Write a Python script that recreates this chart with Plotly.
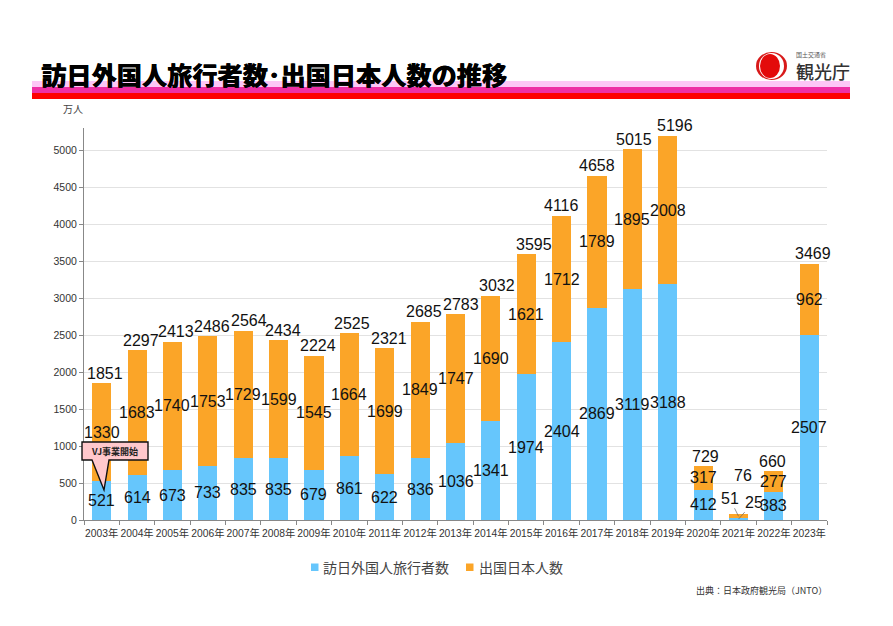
import plotly.graph_objects as go

years = ["2003年","2004年","2005年","2006年","2007年","2008年","2009年","2010年","2011年","2012年","2013年","2014年","2015年","2016年","2017年","2018年","2019年","2020年","2021年","2022年","2023年"]
inbound = [521,614,673,733,835,835,679,861,622,836,1036,1341,1974,2404,2869,3119,3188,412,25,383,2507]
outbound = [1330,1683,1740,1753,1729,1599,1545,1664,1699,1849,1747,1690,1621,1712,1789,1895,2008,317,51,277,962]
totals = [1851,2297,2413,2486,2564,2434,2224,2525,2321,2685,2783,3032,3595,4116,4658,5015,5196,729,76,660,3469]
series_names = ["訪日外国人旅行者数", "出国日本人数"]

# horizontal nudges of the total labels, in pixels
total_nudge = [3,4,4,4,6,4,4,3,4,4,5,6,8,0,0,2,7,2,4,-1,4]

L, R, T, B = 84, 827, 128, 520
def px(x): return (x - L) / (R - L)
def py(y): return (B - y) / (B - T)

BLUE, ORANGE = "#66C6FC", "#FBA528"
LBL = "Liberation Sans, Arial, sans-serif"
JP = "Noto Sans CJK JP, sans-serif"
LF = dict(family=LBL, size=16, color="#111")

fig = go.Figure()
fig.add_bar(name=series_names[0], x=years, y=inbound, marker_color=BLUE, marker_line_width=0, showlegend=False)
fig.add_bar(name=series_names[1], x=years, y=outbound, marker_color=ORANGE, marker_line_width=0, showlegend=False)

ann = []
for i, yr in enumerate(years):
    a, b, t = inbound[i], outbound[i], totals[i]
    if yr == "2021年":
        ann.append(dict(x=yr, y=t, text=str(t), showarrow=False, yshift=39, xshift=total_nudge[i], font=LF))
        ann.append(dict(x=yr, y=a + b / 2, text=str(b), ax=-9, ay=-18, showarrow=True, arrowhead=0,
                        arrowwidth=0.7, arrowcolor="#666", font=LF))
        ann.append(dict(x=yr, y=a / 2, text=str(a), ax=15, ay=-17, showarrow=True, arrowhead=0,
                        arrowwidth=0.7, arrowcolor="#666", font=LF))
        continue
    ann.append(dict(x=yr, y=a / 2, text=str(a), showarrow=False, font=LF))
    ann.append(dict(x=yr, y=a + b / 2, text=str(b), showarrow=False, font=LF))
    ann.append(dict(x=yr, y=t, text=str(t), showarrow=False, yshift=10, xshift=total_nudge[i], font=LF))

def ptext(x, y, text, size, family=JP, color="#222", anchor="center", **fontkw):
    ann.append(dict(xref="paper", yref="paper", x=px(x), y=py(y), text=text, showarrow=False,
                    xanchor=anchor, yanchor="middle", borderpad=0,
                    font=dict(family=family, size=size, color=color, **fontkw)))

ptext(40, 73.5, "訪日外国人旅行者数･出国日本人数の推移", 25.2, color="#000", anchor="left", weight=900,
      shadow="0.4px 0.4px 0 #000")
ptext(62, 108, "万人", 10, anchor="left", color="#444")
ptext(828, 590, "出典：日本政府観光局（JNTO）", 9, anchor="right", color="#333")
ptext(114, 451, "VJ事業開始", 9, color="#222", weight=700)
ptext(823, 71, "観光庁", 18, color="#333", weight=500)
ptext(811, 55, "国土交通省", 6, color="#555")

# legend row
ptext(322, 567, series_names[0], 14, color="#444", anchor="left")
ptext(478, 567, series_names[1], 14, color="#444", anchor="left")

def band(y0, y1, col):
    return dict(type="rect", xref="paper", yref="paper", x0=px(32), x1=px(850), y0=py(y0), y1=py(y1),
                fillcolor=col, line_width=0, layer="below")
def swatch(x0, col):
    return dict(type="rect", xref="paper", yref="paper", x0=px(x0), x1=px(x0 + 7.5), y0=py(563.5), y1=py(571),
                fillcolor=col, line_width=0)

shapes = [
    band(81, 87, "#FDC6F6"), band(87, 93, "#EE2FA5"), band(93, 99, "#FE0000"),
    swatch(311, BLUE), swatch(466, ORANGE),
    dict(type="circle", xref="paper", yref="paper", x0=px(756), x1=px(787), y0=py(80), y1=py(52),
         fillcolor="#D81A1A", line_width=0),
    dict(type="circle", xref="paper", yref="paper", x0=px(759), x1=px(784), y0=py(79), y1=py(53),
         fillcolor="#FFFFFF", line_width=0),
    dict(type="circle", xref="paper", yref="paper", x0=px(760), x1=px(780), y0=py(78), y1=py(54),
         fillcolor="#E30B0B", line_width=0),
    dict(type="path", xref="paper", yref="paper",
         path="M {} {} L {} {} L {} {} L {} {} L {} {} L {} {} L {} {} Z".format(
             px(82), py(442), px(148), py(442), px(148), py(460), px(109), py(460),
             px(104), py(490), px(92), py(460), px(82), py(460)),
         fillcolor="#FFC8CC", line=dict(color="#111", width=1.4)),
]

fig.update_layout(
    barmode="stack", bargap=0.46, width=893, height=626, autosize=False,
    margin=dict(l=L, r=893 - R, t=T, b=626 - B, pad=0),
    paper_bgcolor="white", plot_bgcolor="white",
    font=dict(family=LBL, color="#333"),
    annotations=ann, shapes=shapes, showlegend=False,
    xaxis=dict(type="category", range=[-0.5, len(years) - 0.5], autorange=False,
               tickson="boundaries", ticks="outside", ticklen=4, tickcolor="#888",
               showline=True, linecolor="#888", linewidth=1, showgrid=False, ticklabelstandoff=4,
               tickfont=dict(family=LBL + ", " + JP, size=10.3, color="#333"), tickangle=0),
    yaxis=dict(range=[0, 5304], autorange=False, tick0=0, dtick=500, ticks="outside", ticklen=4, tickcolor="#888",
               showline=True, linecolor="#888", linewidth=1, showgrid=True, gridcolor="#E2E2E2", gridwidth=1,
               zeroline=False, tickfont=dict(family=LBL, size=10.5, color="#333")),
)
fig.write_html("out.html", config={"displayModeBar": False},
               post_script="document.body.style.margin='0';document.body.style.overflow='hidden';")
